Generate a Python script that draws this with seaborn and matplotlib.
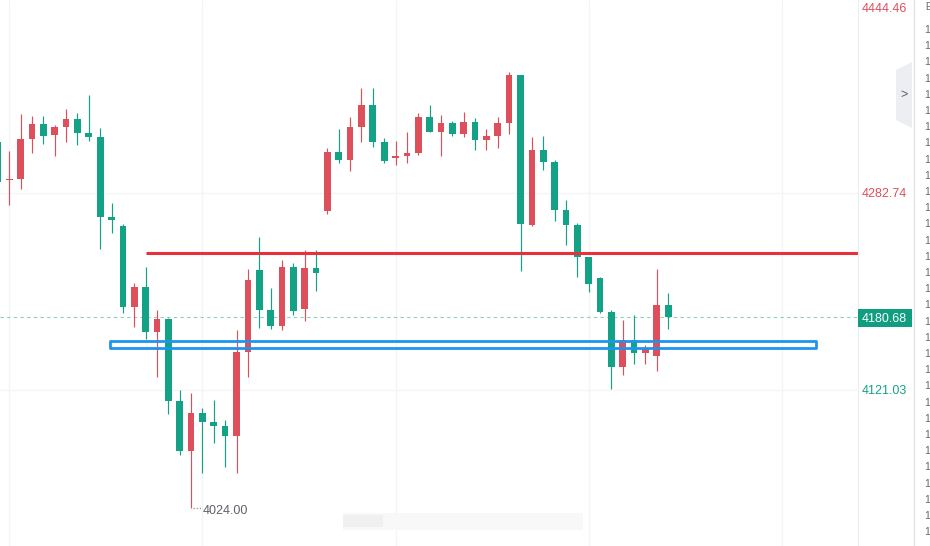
import numpy as np
import pandas as pd
import matplotlib
matplotlib.use("Agg")
import matplotlib.pyplot as plt
import matplotlib.transforms as mtransforms
from matplotlib.patches import Rectangle, Polygon
from matplotlib.lines import Line2D
import seaborn as sns

# ---------------- data ----------------
opens = [4324.9, 4293.4, 4294.5, 4327.3, 4339.4, 4330.6, 4337.2, 4343.5, 4332.0, 4328.7,
         4263.0, 4255.9, 4189.4, 4205.6, 4168.9, 4179.3, 4112.0, 4071.2, 4102.1, 4094.8,
         4091.2, 4083.5, 4152.5, 4219.5, 4186.7, 4173.6, 4222.0, 4187.5, 4220.9, 4268.0,
         4316.4, 4310.1, 4337.2, 4355.0, 4324.6, 4311.7, 4313.4, 4315.8, 4344.9, 4332.6,
         4340.0, 4331.4, 4340.8, 4326.5, 4329.8, 4340.4, 4379.4, 4256.5, 4317.8, 4308.2,
         4268.5, 4256.2, 4230.2, 4213.0, 4185.1, 4140.1, 4162.1, 4151.6, 4149.2, 4190.6]
highs = [4329.5, 4317.2, 4347.3, 4346.0, 4346.0, 4338.8, 4351.7, 4348.4, 4363.2, 4335.9,
         4274.5, 4257.0, 4208.9, 4222.0, 4186.7, 4180.4, 4121.0, 4118.6, 4106.0, 4112.6,
         4096.4, 4170.3, 4220.1, 4246.6, 4204.5, 4227.7, 4225.3, 4235.9, 4235.9, 4319.4,
         4335.0, 4344.9, 4368.9, 4368.9, 4327.6, 4325.4, 4333.1, 4348.2, 4355.0, 4347.0,
         4342.1, 4349.2, 4344.1, 4335.0, 4345.1, 4381.8, 4379.4, 4328.5, 4329.3, 4309.8,
         4277.0, 4257.9, 4230.4, 4213.8, 4186.7, 4178.5, 4182.3, 4157.7, 4220.1, 4200.4]
lows = [4288.5, 4272.9, 4286.0, 4315.3, 4323.0, 4313.1, 4324.6, 4321.9, 4325.4, 4236.8,
        4249.9, 4184.5, 4173.0, 4162.6, 4131.4, 4101.3, 4067.7, 4024.0, 4052.6, 4077.3,
        4058.1, 4053.1, 4131.9, 4172.2, 4170.9, 4170.3, 4182.6, 4177.9, 4202.5, 4265.5,
        4307.6, 4301.0, 4324.6, 4320.7, 4307.1, 4305.7, 4307.6, 4313.9, 4332.6, 4313.4,
        4329.8, 4329.0, 4318.0, 4318.0, 4319.7, 4331.4, 4219.0, 4255.4, 4301.6, 4260.0,
        4240.1, 4213.8, 4201.7, 4184.2, 4121.6, 4133.6, 4142.4, 4142.6, 4136.9, 4171.3]
closes = [4292.0, 4294.0, 4326.8, 4339.4, 4329.8, 4336.9, 4343.5, 4332.2, 4329.0, 4263.3,
          4260.8, 4189.2, 4205.6, 4168.9, 4179.3, 4112.2, 4071.2, 4102.1, 4095.0, 4091.7,
          4083.5, 4152.2, 4211.3, 4186.9, 4173.8, 4222.0, 4186.1, 4221.2, 4217.3, 4316.4,
          4309.8, 4336.7, 4355.0, 4324.9, 4309.3, 4312.9, 4315.3, 4344.9, 4332.6, 4340.0,
          4331.4, 4340.8, 4326.5, 4329.3, 4340.0, 4379.4, 4257.3, 4317.8, 4308.4, 4268.8,
          4256.7, 4230.4, 4208.3, 4185.1, 4140.1, 4162.1, 4151.6, 4154.4, 4190.6, 4180.68]

last_price = 4180.68
last_label = "4180.68"
axis_levels = [4444.46, 4282.74, 4121.03]
axis_labels = ["4444.46", "4282.74", "4121.03"]
low_value = 4024.00
low_label = "4024.00"
resistance_level = 4233.7
zone_bottom = 4155.5
zone_top = 4161.2
time_grid_idx = [1, 18, 35, 52, 69]

# ---------------- style ----------------
RED = "#dc4f5b"
GREEN = "#13a286"
LINE_RED = "#ea2f3c"
ZONE_BLUE = "#1c95ee"
GRID = "#f3f4f7"

sns.set_theme(style="white")
plt.rcParams["font.family"] = ["Liberation Sans", "DejaVu Sans"]

W, H = 930, 546
fig = plt.figure(figsize=(W / 100, H / 100), dpi=100)
fig.patch.set_facecolor("white")
AX_W = 858
ax = fig.add_axes([0, 0, AX_W / W, 1])
ax.set_facecolor("white")

n = len(opens)
idx = np.arange(n)
df = pd.DataFrame({"i": idx, "open": opens, "high": highs, "low": lows, "close": closes})
df["dir"] = np.where(df["close"] >= df["open"], "up", "down")
palette = {"up": RED, "down": GREEN}

# pixel <-> data scaling
step_px = 11.36
x0_px = -2.06  # pixel of candle 0
xmin = (0 - x0_px) / step_px
xmax = (AX_W - x0_px) / step_px
ymax = 4441.17
ymin = 4441.17 - 0.8209 * H
ax.set_xlim(xmin, xmax)
ax.set_ylim(ymin, ymax)

# grid
for lv in axis_levels:
    ax.axhline(lv, color=GRID, lw=0.9, zorder=0)
for gx in time_grid_idx:
    ax.axvline(gx, color=GRID, lw=0.9, zorder=0)

# last price dashed line
ax.axhline(last_price, color="#8ccfbf", lw=0.8, ls=(0, (3, 3)), zorder=1)

# wicks with seaborn
wick = pd.concat([
    df[["i", "high", "dir"]].rename(columns={"high": "p"}),
    df[["i", "low", "dir"]].rename(columns={"low": "p"}),
])
sns.lineplot(data=wick, x="i", y="p", units="i", estimator=None, hue="dir",
             palette=palette, legend=False, linewidth=0.85, ax=ax, zorder=2,
             solid_capstyle="butt")

# bodies
body_bottom = np.minimum(df["open"], df["close"])
body_h = np.maximum(np.abs(df["close"] - df["open"]), 1.0)
colors = [palette[d] for d in df["dir"]]
ax.bar(idx, body_h, bottom=body_bottom, width=0.59, color=colors, linewidth=0, zorder=3)

# resistance line
res_start = (146 - x0_px) / step_px
ax.plot([res_start, xmax + 1], [resistance_level, resistance_level], color=LINE_RED,
        lw=2.2, solid_capstyle="butt", zorder=5, clip_on=True)

# support zone rectangle
z_x0 = (110 - x0_px) / step_px
z_x1 = (816 - x0_px) / step_px
ax.add_patch(Rectangle((z_x0, zone_bottom), z_x1 - z_x0, zone_top - zone_bottom,
                       fill=False, edgecolor=ZONE_BLUE, lw=2.0, zorder=5,
                       joinstyle="round"))

# low marker label
lx = 17
ax.plot([lx + 0.15, lx + 0.85], [low_value, low_value], color="#8a8d96", lw=0.9,
        ls=(0, (1, 1.5)), zorder=4)
ax.text(lx + 1.02, low_value - 2.6, low_label, ha="left", va="center", fontsize=9,
        color="#5d606b", zorder=6)

# watermark (blurred)
ax.add_patch(Rectangle(((343 - x0_px) / step_px, ymax - 0.8209 * 530), 240 / step_px,
                       0.8209 * 17, facecolor="#f8f8f8", edgecolor="none", zorder=0.5))
ax.add_patch(Rectangle(((343 - x0_px) / step_px, ymax - 0.8209 * 527), 40 / step_px,
                       0.8209 * 12, facecolor="#f0f0f0", edgecolor="none", zorder=0.6))

for s in ax.spines.values():
    s.set_visible(False)
ax.set_xticks([])
ax.set_yticks([])
ax.set_xlabel("")
ax.set_ylabel("")

# right price scale
trans = mtransforms.blended_transform_factory(ax.transAxes, ax.transData)
lab_x = 862 / AX_W
label_colors = [RED, RED, GREEN]
for lv, lt, c in zip(axis_levels, axis_labels, label_colors):
    # the top label sits at the very edge; keep it just inside the figure
    yv = min(lv, ymax - 0.8209 * 7)
    ax.text(lab_x, yv, lt, transform=trans, ha="left", va="center_baseline", fontsize=9,
            color=c, clip_on=False)

# last price tag
fig.patches.append(Rectangle((858 / W, 1 - 327 / H), 54 / W, 18 / H,
                             transform=fig.transFigure, facecolor="#0f9e80",
                             edgecolor="none", zorder=10))
fig.text(862 / W, 1 - 318 / H, last_label, ha="left", va="center_baseline",
         fontsize=9, color="white", zorder=11)

# separators
fig.add_artist(Line2D([858 / W, 858 / W], [0, 1], transform=fig.transFigure,
                      color="#eceef2", lw=0.8))
fig.add_artist(Line2D([913.5 / W, 913.5 / W], [0, 1], transform=fig.transFigure,
                      color="#dfe1e6", lw=0.9))

# collapse button
btn = Polygon([(896 / W, 1 - 70 / H), (912 / W, 1 - 62 / H), (912 / W, 1 - 128 / H),
               (896 / W, 1 - 120 / H)], closed=True, transform=fig.transFigure,
              facecolor="#eceef1", edgecolor="none", zorder=5)
fig.patches.append(btn)
fig.text(904 / W, 1 - 95 / H, ">", ha="center", va="center", fontsize=9,
         color="#555a66", zorder=6)

# side panel glyphs
fig.text(925 / W, 1 - 7 / H, "E", ha="left", va="center", fontsize=7, color="#666")
for k in range(32):
    y = 30 + 16.2 * k
    if y > 540:
        break
    fig.text(924 / W, 1 - y / H, "1", ha="left", va="center", fontsize=7.5, color="#666")

fig.savefig("out.png", dpi=100, facecolor="white")
